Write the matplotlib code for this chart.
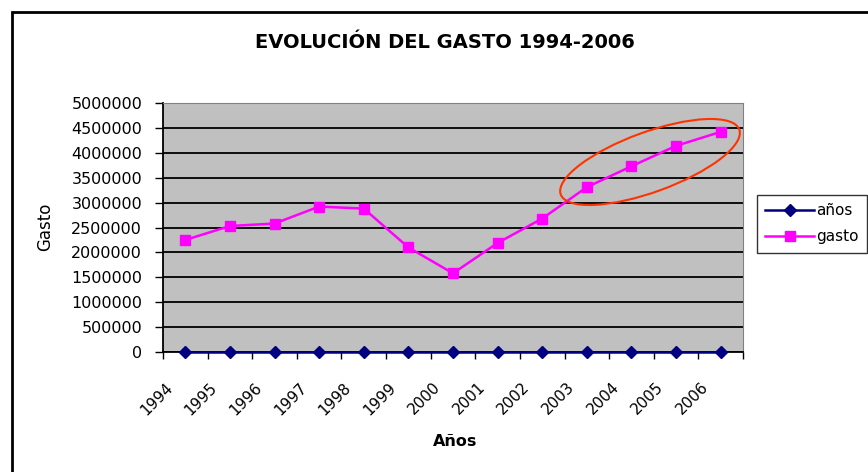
import matplotlib.pyplot as plt
from matplotlib.patches import Ellipse, Rectangle
from matplotlib.transforms import IdentityTransform, ScaledTranslation
from matplotlib.ticker import MultipleLocator

plt.rcParams['font.family'] = ['DejaVu Sans']

years = ['1994', '1995', '1996', '1997', '1998', '1999', '2000',
         '2001', '2002', '2003', '2004', '2005', '2006']
anos = [0] * 13
gasto = [2250000, 2530000, 2580000, 2920000, 2880000, 2100000, 1580000,
         2190000, 2680000, 3310000, 3730000, 4140000, 4420000]

fig = plt.figure(figsize=(8.68, 4.72), dpi=100)
ax = fig.add_axes([163 / 868, 1 - 352 / 472, 580 / 868, 249 / 472])
ax.set_facecolor('#c0c0c0')

x = list(range(len(years)))
ax.plot(x, anos, color='#000080', marker='D', markersize=6.5, lw=1.8,
        label='años', clip_on=False, zorder=4)
ax.plot(x, gasto, color='#ff00ff', marker='s', markersize=6.5, lw=1.8,
        label='gasto', zorder=4)

ax.set_xlim(-0.5, 12.5)
ax.set_ylim(0, 5000000)
ax.yaxis.set_major_locator(MultipleLocator(500000))
ax.yaxis.grid(True, color='black', lw=1.3)
ax.set_axisbelow(True)
ax.tick_params(axis='y', direction='out', length=6, width=1, labelsize=11.5, pad=9)
ax.set_yticklabels([str(int(v)) for v in ax.get_yticks()])

ax.set_xticks(x)
ax.set_xticklabels(years, rotation=45, ha='right', va='center',
                   rotation_mode='anchor', fontsize=11)
ax.tick_params(axis='x', which='major', length=0, pad=0)
off = ScaledTranslation(-0.15, -0.33, fig.dpi_scale_trans)
for lab in ax.get_xticklabels():
    lab.set_transform(lab.get_transform() + off)
ax.set_xticks([i - 0.5 for i in range(14)], minor=True)
ax.tick_params(axis='x', which='minor', direction='out', length=5, width=1)

for s in ['top', 'right']:
    ax.spines[s].set_color('#808080')
    ax.spines[s].set_linewidth(0.8)
for s in ['left', 'bottom']:
    ax.spines[s].set_color('black')
    ax.spines[s].set_linewidth(1.3)

fig.text(455 / 868, 1 - 442 / 472, 'Años', fontsize=11.5, fontweight='bold',
         ha='center', va='center')
fig.text(45 / 868, 1 - 227 / 472, 'Gasto', rotation=90, fontsize=12,
         ha='center', va='center')
fig.text(445 / 868, 1 - 43 / 472, 'EVOLUCIÓN DEL GASTO 1994-2006',
         fontsize=14, fontweight='bold', ha='center', va='center')

fig.legend(loc='upper left', bbox_to_anchor=(757 / 868, 1 - 195 / 472),
           frameon=True, fancybox=False, edgecolor='black', fontsize=11,
           handlelength=3.2, borderpad=0.55, labelspacing=0.7, handletextpad=0.1,
           borderaxespad=0)

# red ellipse highlighting the last years
fig.patches.append(Ellipse((650, 472 - 162), 190, 60, angle=20, fill=False,
                           edgecolor='#ff3300', lw=1.5, transform=IdentityTransform()))
# chart border
fig.patches.append(Rectangle((12, -20), 900, 472 - 12 + 20, fill=False,
                             edgecolor='black', lw=2, transform=IdentityTransform()))

fig.savefig('out.png', dpi=100)
